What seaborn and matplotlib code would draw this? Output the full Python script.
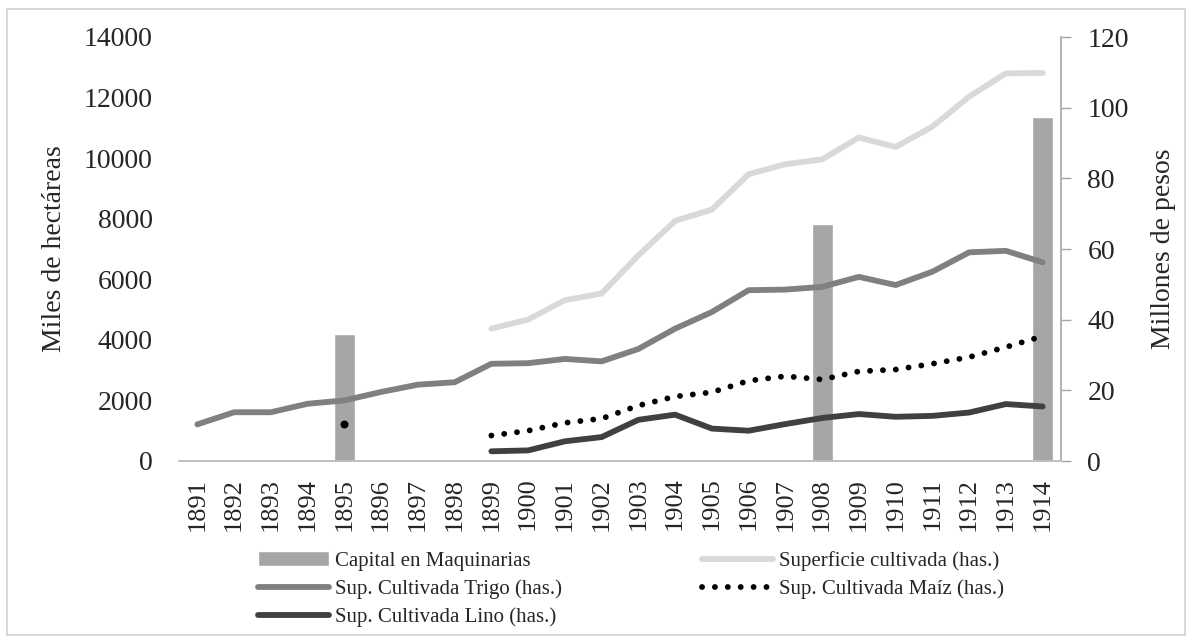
import matplotlib
matplotlib.use("Agg")
import matplotlib.pyplot as plt
import seaborn as sns
import numpy as np
import pandas as pd
from matplotlib.patches import Rectangle

# Datos
anios = list(range(1891, 1915))

capital_maquinarias = [np.nan, np.nan, np.nan, np.nan, 36.0, np.nan, np.nan, np.nan,
                       np.nan, np.nan, np.nan, np.nan, np.nan, np.nan, np.nan, np.nan,
                       np.nan, 67.1, np.nan, np.nan, np.nan, np.nan, np.nan, 97.5]

sup_total = [np.nan, np.nan, np.nan, np.nan, np.nan, np.nan, np.nan, np.nan,
             4370, 4670, 5310, 5530, 6790, 7930, 8300, 9470,
             9800, 9960, 10680, 10370, 11040, 12030, 12800, 12810]

sup_trigo = [1210, 1610, 1610, 1890, 2000, 2280, 2520, 2600,
             3210, 3230, 3370, 3290, 3700, 4370, 4920, 5640,
             5660, 5750, 6080, 5810, 6250, 6890, 6940, 6560]

sup_maiz = [np.nan, np.nan, np.nan, np.nan, 1220, np.nan, np.nan, np.nan,
            840, 1000, 1260, 1400, 1830, 2130, 2270, 2650,
            2800, 2690, 2960, 3020, 3210, 3430, 3760, 4120]

sup_lino = [np.nan, np.nan, np.nan, np.nan, np.nan, np.nan, np.nan, np.nan,
            320, 350, 650, 790, 1360, 1530, 1070, 1000,
            1220, 1420, 1550, 1460, 1490, 1600, 1880, 1800]

df = pd.DataFrame({
    "anio": [str(a) for a in anios],
    "pos": np.arange(len(anios)),
    "capital": capital_maquinarias,
    "total": sup_total,
    "trigo": sup_trigo,
    "maiz": sup_maiz,
    "lino": sup_lino,
})


def tramos(serie):
    """Asigna un id a cada tramo sin huecos, para que seaborn no una los NaN"""
    vacio = serie.isna()
    return (vacio != vacio.shift()).cumsum()


sns.set_style("white")
plt.rcParams["font.family"] = ["Liberation Serif", "DejaVu Serif"]

fig = plt.figure(figsize=(11.92, 6.42), dpi=100)
fig.patches.append(Rectangle((7 / 1192, 7 / 642), 1178 / 1192, 626 / 642,
                             transform=fig.transFigure, fill=False,
                             edgecolor="#d0d0d0", linewidth=1.2))

ax = fig.add_axes([179 / 1192, 1 - 461 / 642, 882 / 1192, 424 / 642])
ax2 = ax.twinx()

# Barras (eje derecho) detrás de las líneas
ax2.set_zorder(ax.get_zorder() - 1)
ax.patch.set_visible(False)
sns.barplot(data=df, x="anio", y="capital", order=df["anio"], color="#a6a6a6",
            width=0.57, saturation=1, ax=ax2, label="Capital en Maquinarias")

lw = 4.2
series = [
    ("total", "#d9d9d9", "Superficie cultivada (has.)", {"solid_capstyle": "round"}),
    ("trigo", "#808080", "Sup. Cultivada Trigo (has.)", {"solid_capstyle": "round"}),
    ("maiz", "black", "Sup. Cultivada Maíz (has.)",
     {"linestyle": (0, (0.01, 2.2)), "dash_capstyle": "round"}),
    ("lino", "#404040", "Sup. Cultivada Lino (has.)", {"solid_capstyle": "round"}),
]
for col, color, label, estilo in series:
    d = df.assign(tramo=tramos(df[col])).dropna(subset=[col])
    sns.lineplot(data=d, x="pos", y=col, units="tramo", estimator=None,
                 color=color, linewidth=lw, ax=ax, label=label, **estilo)

# puntos aislados de maíz (sin vecinos) se dibujan como marcador
maiz = df["maiz"].to_numpy()
aislado = ~np.isnan(maiz) & np.isnan(np.r_[np.nan, maiz[:-1]]) & np.isnan(np.r_[maiz[1:], np.nan])
ax.scatter(df["pos"][aislado], maiz[aislado], s=22, color="black", zorder=5)

ax.set_xlim(-0.5, len(anios) - 0.5)
ax2.set_xlim(-0.5, len(anios) - 0.5)
ax.set_ylim(0, 14000)
ax2.set_ylim(0, 120)
ax.set_yticks(range(0, 14001, 2000))
ax2.set_yticks(range(0, 121, 20))
ax.set_xticks(df["pos"])
ax.set_xticklabels(df["anio"], rotation=90)

ax.tick_params(axis="y", length=0, pad=19, labelsize=20)
ax.tick_params(axis="x", length=0, pad=12, labelsize=19)
ax2.tick_params(axis="y", length=7, width=1, color="#a6a6a6", pad=12, labelsize=20,
                direction="out", right=True)
ax2.tick_params(axis="x", length=0)

for a in (ax, ax2):
    for s in ("top", "left", "right"):
        a.spines[s].set_visible(False)
    a.spines["bottom"].set_color("#bfbfbf")
    a.spines["bottom"].set_linewidth(1.2)
ax2.spines["right"].set_visible(True)
ax2.spines["right"].set_color("#a6a6a6")
ax2.spines["right"].set_linewidth(1.2)

ax.set_xlabel("")
ax2.set_xlabel("")
ax.set_ylabel("Miles de hectáreas", fontsize=20, labelpad=12)
ax2.set_ylabel("Millones de pesos", fontsize=20, labelpad=16)

# Leyenda
h1, l1 = ax.get_legend_handles_labels()
h2, l2 = ax2.get_legend_handles_labels()
for a in (ax, ax2):
    if a.get_legend():
        a.get_legend().remove()
hd = dict(zip(l1 + l2, h1 + h2))
orden = ["Capital en Maquinarias", "Sup. Cultivada Trigo (has.)",
         "Sup. Cultivada Lino (has.)", "Superficie cultivada (has.)",
         "Sup. Cultivada Maíz (has.)"]
fig.legend([hd[k] for k in orden], orden, ncol=2, loc="upper left",
           bbox_to_anchor=(258 / 1192, 1 - 551 / 642), frameon=False,
           fontsize=15, handlelength=3.4, handletextpad=0.3, columnspacing=6.7,
           labelspacing=0.4, borderpad=0, borderaxespad=0)

fig.savefig("out.png", dpi=100)
